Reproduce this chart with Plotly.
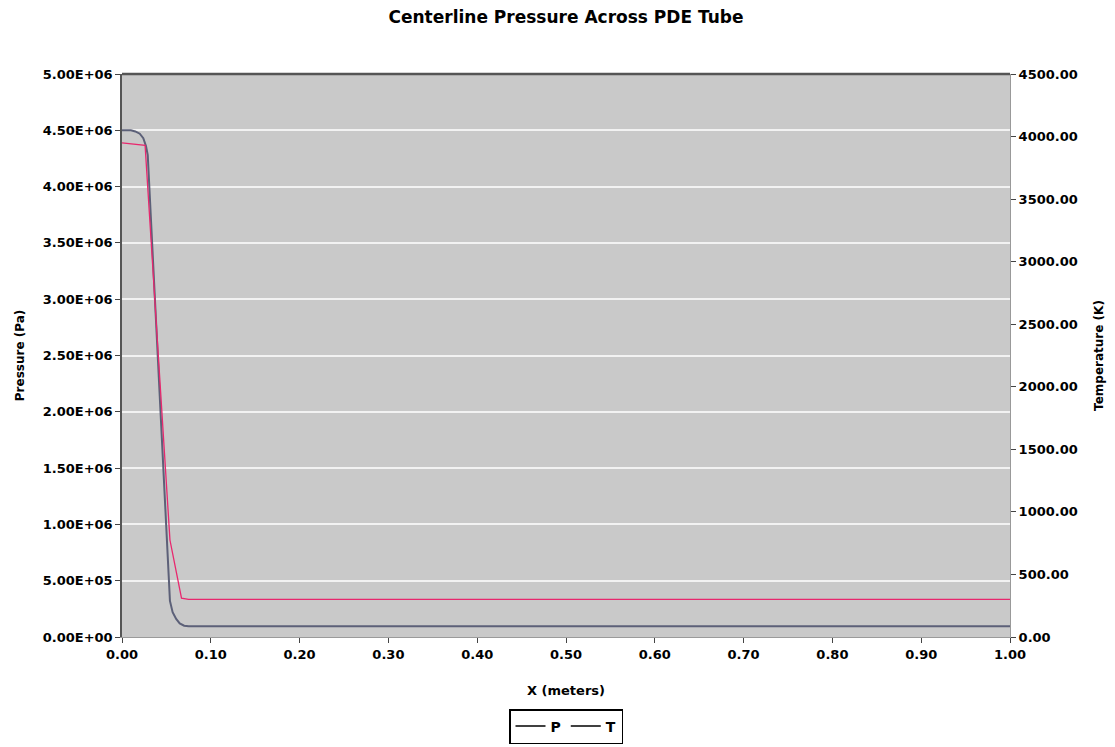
import plotly.graph_objects as go

# Pressure (Pa) along centerline
x_p = [0.0, 0.005, 0.010, 0.015, 0.020, 0.024, 0.027, 0.029, 0.054, 0.057, 0.061, 0.065, 0.070, 0.075, 0.10, 0.20, 0.30, 0.40, 0.50, 0.60, 0.70, 0.80, 0.90, 1.00]
p_vals = [4.50e6, 4.50e6, 4.50e6, 4.49e6, 4.47e6, 4.43e6, 4.36e6, 4.28e6, 3.2e5, 2.2e5, 1.6e5, 1.2e5, 1.0e5, 9.5e4, 9.5e4, 9.5e4, 9.5e4, 9.5e4, 9.5e4, 9.5e4, 9.5e4, 9.5e4, 9.5e4, 9.5e4]

# Temperature (K) along centerline
x_t = [0.0, 0.026, 0.054, 0.067, 0.075, 0.10, 0.20, 0.30, 0.40, 0.50, 0.60, 0.70, 0.80, 0.90, 1.00]
t_vals = [3950, 3930, 775, 310, 300, 300, 300, 300, 300, 300, 300, 300, 300, 300, 300]

p_ticks = [0, 5e5, 1e6, 1.5e6, 2e6, 2.5e6, 3e6, 3.5e6, 4e6, 4.5e6, 5e6]
p_ticktext = [f"{v:.2E}" for v in p_ticks]
x_ticks = [0.0, 0.1, 0.2, 0.3, 0.4, 0.5, 0.6, 0.7, 0.8, 0.9, 1.0]
t_ticks = [0, 500, 1000, 1500, 2000, 2500, 3000, 3500, 4000, 4500]

font_family = "DejaVu Sans, Verdana, sans-serif"
tick_font = dict(family=font_family, size=13, color="black", weight="bold")

fig = go.Figure()
fig.add_trace(go.Scatter(x=x_p, y=p_vals, mode="lines", name="P",
                         line=dict(color="#5c6078", width=2), showlegend=False))
fig.add_trace(go.Scatter(x=x_t, y=t_vals, mode="lines", name="T", yaxis="y2",
                         line=dict(color="#e8286e", width=1.3), showlegend=False))
# legend entries (drawn black, as in the reference)
fig.add_trace(go.Scatter(x=[None], y=[None], mode="lines", name="P",
                         line=dict(color="black", width=1.5)))
fig.add_trace(go.Scatter(x=[None], y=[None], mode="lines", name="T", yaxis="y2",
                         line=dict(color="black", width=1.5)))

fig.update_layout(
    width=1115, height=747,
    margin=dict(l=122, r=105, t=74, b=110, autoexpand=False),
    paper_bgcolor="white",
    plot_bgcolor="#c9c9c9",
    title=dict(text="<b>Centerline Pressure Across PDE Tube</b>", x=0.5, xanchor="center",
               xref="paper", y=1 - 17 / 747, yanchor="middle",
               font=dict(family=font_family, size=17, color="black")),
    xaxis=dict(range=[0, 1.0], tickvals=x_ticks, tickformat=".2f",
               ticks="outside", ticklen=5, tickcolor="#444",
               showline=True, linecolor="#9a9a9a", linewidth=1,
               showgrid=False, zeroline=False, tickfont=tick_font,
               title=dict(text="<b>X (meters)</b>", font=dict(family=font_family, size=13, color="black"),
                          standoff=25)),
    yaxis=dict(range=[0, 5e6], tickvals=p_ticks, ticktext=p_ticktext,
               ticks="outside", ticklen=5, tickcolor="#444",
               showline=True, linecolor="#555", linewidth=1.5,
               showgrid=True, gridcolor="#f2f2f2", gridwidth=1.5, zeroline=False,
               tickfont=tick_font,
               title=dict(text="<b>Pressure (Pa)</b>", font=dict(family=font_family, size=12, color="black"),
                          standoff=15)),
    yaxis2=dict(range=[0, 4500], tickvals=t_ticks, tickformat=".2f",
                overlaying="y", side="right", anchor="x",
                ticks="outside", ticklen=5, tickcolor="#444",
                showline=True, linecolor="#999", linewidth=1,
                showgrid=False, zeroline=False, tickfont=tick_font,
                title=dict(text="<b>Temperature (K)</b>", font=dict(family=font_family, size=12, color="black"),
                           standoff=17)),
    legend=dict(orientation="h", x=0.5, xanchor="center",
                yref="container", y=3 / 747, yanchor="bottom",
                bordercolor="black", borderwidth=1.5, bgcolor="white",
                font=dict(family=font_family, size=14, color="black", weight="bold"),
                itemwidth=30, tracegroupgap=0),
    shapes=[dict(type="line", xref="paper", yref="paper", x0=0, x1=1, y0=1, y1=1,
                 line=dict(color="#555", width=2.5), layer="above")],
)

fig.write_html("out.html")
